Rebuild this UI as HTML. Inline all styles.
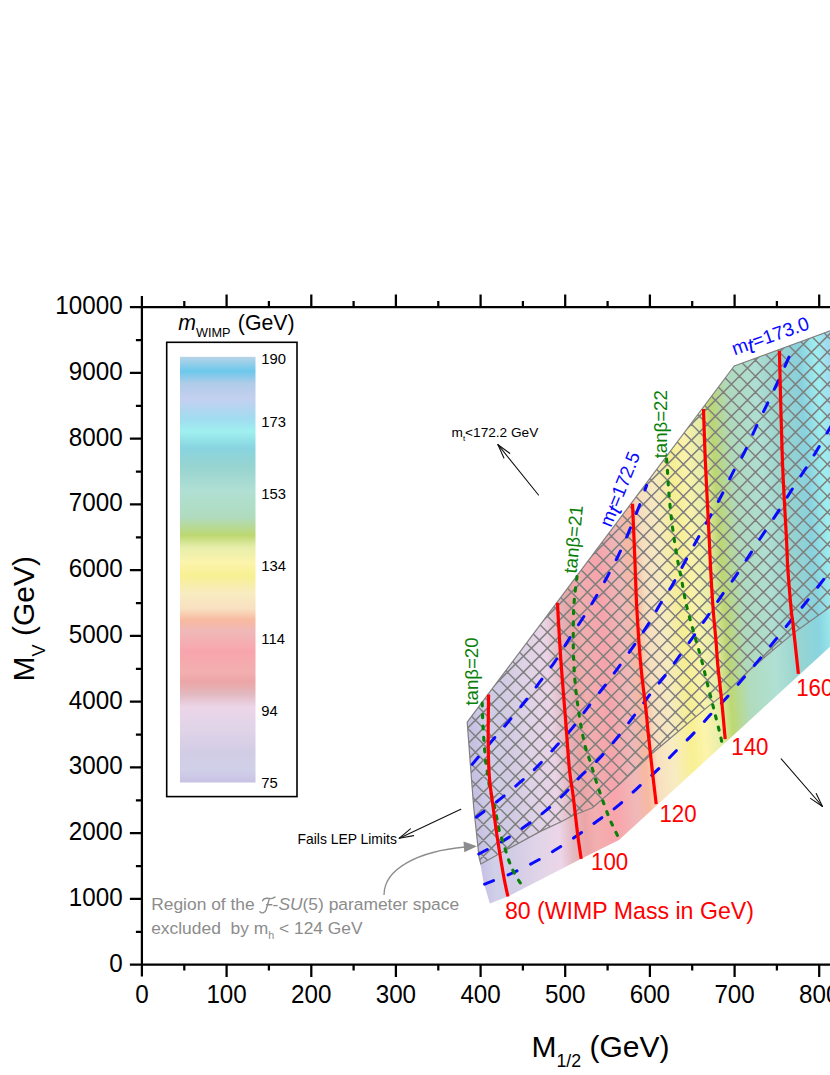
<!DOCTYPE html><html><head><meta charset="utf-8"><title>chart</title>
<style>html,body{margin:0;padding:0;background:#fff;}body{width:830px;height:1075px;overflow:hidden;}svg{display:block;}text{font-family:'Liberation Sans', sans-serif;}</style></head><body>
<svg width="830" height="1075" viewBox="0 0 830 1075">
<defs>
<linearGradient id="gp" gradientUnits="userSpaceOnUse" x1="470.0" y1="700.0" x2="917.4" y2="668.7"><stop offset="0.0000" stop-color="#c9c1e5"/><stop offset="0.0296" stop-color="#d0d0e8"/><stop offset="0.0713" stop-color="#d2cce5"/><stop offset="0.1243" stop-color="#e0d4e8"/><stop offset="0.1774" stop-color="#ecd5e8"/><stop offset="0.2078" stop-color="#e2b9c0"/><stop offset="0.2365" stop-color="#eca5a6"/><stop offset="0.2600" stop-color="#f3afb0"/><stop offset="0.3078" stop-color="#f8a5ac"/><stop offset="0.3548" stop-color="#f0b9b9"/><stop offset="0.3817" stop-color="#f8b9a0"/><stop offset="0.4070" stop-color="#f8dfc0"/><stop offset="0.4435" stop-color="#f8ecc2"/><stop offset="0.4861" stop-color="#f8f092"/><stop offset="0.5174" stop-color="#fcf4ac"/><stop offset="0.5530" stop-color="#e6eeaa"/><stop offset="0.5800" stop-color="#bdd871"/><stop offset="0.6226" stop-color="#b0dbbe"/><stop offset="0.6852" stop-color="#b0e0d4"/><stop offset="0.7391" stop-color="#98d4d0"/><stop offset="0.7861" stop-color="#88d4e0"/><stop offset="0.8243" stop-color="#a0f0f0"/><stop offset="0.8539" stop-color="#a0dcf0"/><stop offset="0.9009" stop-color="#c4d0f0"/><stop offset="0.9374" stop-color="#b0cce8"/><stop offset="0.9661" stop-color="#6cc8ec"/><stop offset="1.0000" stop-color="#b8d4e8"/></linearGradient>
<linearGradient id="gl" x1="0" y1="0" x2="0" y2="1"><stop offset="0.0000" stop-color="#b8d4e8"/><stop offset="0.0339" stop-color="#6cc8ec"/><stop offset="0.0626" stop-color="#b0cce8"/><stop offset="0.0991" stop-color="#c4d0f0"/><stop offset="0.1461" stop-color="#a0dcf0"/><stop offset="0.1757" stop-color="#a0f0f0"/><stop offset="0.2139" stop-color="#88d4e0"/><stop offset="0.2609" stop-color="#98d4d0"/><stop offset="0.3148" stop-color="#b0e0d4"/><stop offset="0.3774" stop-color="#b0dbbe"/><stop offset="0.4200" stop-color="#bdd871"/><stop offset="0.4470" stop-color="#e6eeaa"/><stop offset="0.4826" stop-color="#fcf4ac"/><stop offset="0.5139" stop-color="#f8f092"/><stop offset="0.5565" stop-color="#f8ecc2"/><stop offset="0.5930" stop-color="#f8dfc0"/><stop offset="0.6183" stop-color="#f8b9a0"/><stop offset="0.6452" stop-color="#f0b9b9"/><stop offset="0.6922" stop-color="#f8a5ac"/><stop offset="0.7400" stop-color="#f3afb0"/><stop offset="0.7635" stop-color="#eca5a6"/><stop offset="0.7922" stop-color="#e2b9c0"/><stop offset="0.8226" stop-color="#ecd5e8"/><stop offset="0.8757" stop-color="#e0d4e8"/><stop offset="0.9287" stop-color="#d2cce5"/><stop offset="0.9704" stop-color="#d0d0e8"/><stop offset="1.0000" stop-color="#c9c1e5"/></linearGradient>
<pattern id="hx" patternUnits="userSpaceOnUse" x="11.4" y="0.2" width="16" height="16"><path d="M-1,-1 L17,17 M-1,17 L17,-1" stroke="#808080" stroke-width="1.55" fill="none"/></pattern>
<clipPath id="cp"><rect x="0" y="0" width="830" height="1075"/></clipPath>
</defs>
<rect width="830" height="1075" fill="#fff"/>
<g clip-path="url(#cp)">
<polygon points="467.2,722.1 734.2,366.0 832.0,330.1 832.0,645.0 619.0,840.0 581.3,858.7 507.9,896.5 489.8,903.4 483.5,882.0 479.0,856.8 473.6,806.1 470.8,770.0" fill="url(#gp)"/>
<polygon points="467.2,722.1 734.2,366.0 832.0,330.1 832.0,605.5 795.7,631.4 775.8,647.7 751.0,669.0 726.5,692.3 708.0,706.6 686.8,724.2 668.5,739.8 652.3,753.3 637.7,767.0 619.6,784.2 592.5,807.7 572.0,816.0 560.0,822.2 540.4,831.4 507.0,849.5 480.8,864.0 479.0,856.8 473.6,806.1 470.8,770.0" fill="#808080" fill-opacity="0.02"/>
<clipPath id="hc"><polygon points="467.2,722.1 734.2,366.0 832.0,330.1 832.0,605.5 795.7,631.4 775.8,647.7 751.0,669.0 726.5,692.3 708.0,706.6 686.8,724.2 668.5,739.8 652.3,753.3 637.7,767.0 619.6,784.2 592.5,807.7 572.0,816.0 560.0,822.2 540.4,831.4 507.0,849.5 480.8,864.0 479.0,856.8 473.6,806.1 470.8,770.0"/></clipPath>
<path clip-path="url(#hc)" d="M460.00,303.60 L836.00,-72.40 M460.00,319.60 L836.00,-56.40 M460.00,335.60 L836.00,-40.40 M460.00,351.60 L836.00,-24.40 M460.00,367.60 L836.00,-8.40 M460.00,383.60 L836.00,7.60 M460.00,399.60 L836.00,23.60 M460.00,415.60 L836.00,39.60 M460.00,431.60 L836.00,55.60 M460.00,447.60 L836.00,71.60 M460.00,463.60 L836.00,87.60 M460.00,479.60 L836.00,103.60 M460.00,495.60 L836.00,119.60 M460.00,511.60 L836.00,135.60 M460.00,527.60 L836.00,151.60 M460.00,543.60 L836.00,167.60 M460.00,559.60 L836.00,183.60 M460.00,575.60 L836.00,199.60 M460.00,591.60 L836.00,215.60 M460.00,607.60 L836.00,231.60 M460.00,623.60 L836.00,247.60 M460.00,639.60 L836.00,263.60 M460.00,655.60 L836.00,279.60 M460.00,671.60 L836.00,295.60 M460.00,687.60 L836.00,311.60 M460.00,703.60 L836.00,327.60 M460.00,719.60 L836.00,343.60 M460.00,735.60 L836.00,359.60 M460.00,751.60 L836.00,375.60 M460.00,767.60 L836.00,391.60 M460.00,783.60 L836.00,407.60 M460.00,799.60 L836.00,423.60 M460.00,815.60 L836.00,439.60 M460.00,831.60 L836.00,455.60 M460.00,847.60 L836.00,471.60 M460.00,863.60 L836.00,487.60 M460.00,879.60 L836.00,503.60 M460.00,895.60 L836.00,519.60 M460.00,911.60 L836.00,535.60 M460.00,927.60 L836.00,551.60 M460.00,943.60 L836.00,567.60 M460.00,959.60 L836.00,583.60 M460.00,975.60 L836.00,599.60 M460.00,991.60 L836.00,615.60 M460.00,1007.60 L836.00,631.60 M460.00,1023.60 L836.00,647.60 M460.00,1039.60 L836.00,663.60 M460.00,1055.60 L836.00,679.60 M460.00,1071.60 L836.00,695.60 M460.00,1087.60 L836.00,711.60 M460.00,1103.60 L836.00,727.60 M460.00,1119.60 L836.00,743.60 M460.00,1135.60 L836.00,759.60 M460.00,1151.60 L836.00,775.60 M460.00,1167.60 L836.00,791.60 M460.00,1183.60 L836.00,807.60 M460.00,1199.60 L836.00,823.60 M460.00,1215.60 L836.00,839.60 M460.00,1231.60 L836.00,855.60 M460.00,1247.60 L836.00,871.60 M460.00,-79.20 L836.00,296.80 M460.00,-63.20 L836.00,312.80 M460.00,-47.20 L836.00,328.80 M460.00,-31.20 L836.00,344.80 M460.00,-15.20 L836.00,360.80 M460.00,0.80 L836.00,376.80 M460.00,16.80 L836.00,392.80 M460.00,32.80 L836.00,408.80 M460.00,48.80 L836.00,424.80 M460.00,64.80 L836.00,440.80 M460.00,80.80 L836.00,456.80 M460.00,96.80 L836.00,472.80 M460.00,112.80 L836.00,488.80 M460.00,128.80 L836.00,504.80 M460.00,144.80 L836.00,520.80 M460.00,160.80 L836.00,536.80 M460.00,176.80 L836.00,552.80 M460.00,192.80 L836.00,568.80 M460.00,208.80 L836.00,584.80 M460.00,224.80 L836.00,600.80 M460.00,240.80 L836.00,616.80 M460.00,256.80 L836.00,632.80 M460.00,272.80 L836.00,648.80 M460.00,288.80 L836.00,664.80 M460.00,304.80 L836.00,680.80 M460.00,320.80 L836.00,696.80 M460.00,336.80 L836.00,712.80 M460.00,352.80 L836.00,728.80 M460.00,368.80 L836.00,744.80 M460.00,384.80 L836.00,760.80 M460.00,400.80 L836.00,776.80 M460.00,416.80 L836.00,792.80 M460.00,432.80 L836.00,808.80 M460.00,448.80 L836.00,824.80 M460.00,464.80 L836.00,840.80 M460.00,480.80 L836.00,856.80 M460.00,496.80 L836.00,872.80 M460.00,512.80 L836.00,888.80 M460.00,528.80 L836.00,904.80 M460.00,544.80 L836.00,920.80 M460.00,560.80 L836.00,936.80 M460.00,576.80 L836.00,952.80 M460.00,592.80 L836.00,968.80 M460.00,608.80 L836.00,984.80 M460.00,624.80 L836.00,1000.80 M460.00,640.80 L836.00,1016.80 M460.00,656.80 L836.00,1032.80 M460.00,672.80 L836.00,1048.80 M460.00,688.80 L836.00,1064.80 M460.00,704.80 L836.00,1080.80 M460.00,720.80 L836.00,1096.80 M460.00,736.80 L836.00,1112.80 M460.00,752.80 L836.00,1128.80 M460.00,768.80 L836.00,1144.80 M460.00,784.80 L836.00,1160.80 M460.00,800.80 L836.00,1176.80 M460.00,816.80 L836.00,1192.80 M460.00,832.80 L836.00,1208.80 M460.00,848.80 L836.00,1224.80 M460.00,864.80 L836.00,1240.80 M460.00,880.80 L836.00,1256.80" stroke="#808080" stroke-width="1.5" fill="none"/>
<polygon points="467.2,722.1 734.2,366.0 832.0,330.1 832.0,605.5 795.7,631.4 775.8,647.7 751.0,669.0 726.5,692.3 708.0,706.6 686.8,724.2 668.5,739.8 652.3,753.3 637.7,767.0 619.6,784.2 592.5,807.7 572.0,816.0 560.0,822.2 540.4,831.4 507.0,849.5 480.8,864.0 479.0,856.8 473.6,806.1 470.8,770.0" fill="none" stroke="#808080" stroke-width="1.2" stroke-linejoin="round"/>
<path d="M472.2,764.4 C475.6,760.4 486.4,747.4 492.5,740.2 C498.6,733.0 503.4,727.7 508.8,721.2 C514.2,714.7 520.0,707.8 525.1,701.3 C530.2,694.8 534.5,689.0 539.5,682.4 C544.5,675.8 549.8,669.1 554.9,661.6 C560.0,654.1 565.5,644.6 570.2,637.2 C575.0,629.8 579.2,623.8 583.4,617.3 C587.5,610.8 591.0,605.2 595.1,598.3 C599.2,591.4 603.9,582.9 607.8,575.7 C611.7,568.5 615.1,562.2 618.6,555.0 C622.1,547.8 625.3,540.2 628.6,532.4 C631.9,524.6 635.5,515.8 638.5,508.0 C641.5,500.2 645.2,489.2 646.6,485.4" fill="none" stroke="#0a0aff" stroke-width="3" stroke-linecap="round" stroke-dasharray="9.8 15.3"/>
<path d="M476.3,817.2 C480.4,814.1 493.5,804.4 500.7,798.6 C507.9,792.9 513.7,787.8 519.6,782.7 C525.5,777.6 529.9,774.0 535.9,768.0 C541.9,762.0 549.8,753.1 555.8,746.5 C561.8,739.9 566.6,735.0 572.0,728.4 C577.4,721.8 582.9,713.9 588.3,706.8 C593.7,699.7 599.6,692.5 604.6,686.0 C609.6,679.5 612.9,675.0 618.1,667.8 C623.4,660.5 630.7,650.3 636.1,642.5 C641.5,634.7 646.5,627.0 650.4,620.9 C654.3,614.8 655.7,611.5 659.3,605.6 C662.9,599.7 668.0,592.3 671.9,585.7 C675.8,579.1 678.6,573.5 682.8,565.8 C687.0,558.1 692.7,547.6 697.2,539.5 C701.7,531.4 705.7,524.3 709.8,516.9 C713.9,509.5 717.5,503.0 721.6,495.2 C725.7,487.4 730.6,476.8 734.2,470.0 C737.8,463.2 739.8,461.4 743.3,454.6 C746.8,447.8 751.1,437.6 755.0,429.3 C758.9,421.0 762.9,413.0 766.8,404.9 C770.7,396.8 774.6,388.9 778.5,380.5 C782.4,372.1 788.2,358.7 790.2,354.3" fill="none" stroke="#0a0aff" stroke-width="3" stroke-linecap="round" stroke-dasharray="9.8 15.3"/>
<path d="M478.8,854.0 C483.2,851.6 497.2,844.4 505.2,839.6 C513.2,834.8 520.1,829.9 526.9,825.1 C533.7,820.3 539.5,816.0 545.8,810.7 C552.1,805.4 559.1,799.1 564.8,793.5 C570.5,787.9 574.2,782.8 579.9,777.0 C585.6,771.2 592.6,765.6 598.9,758.9 C605.2,752.2 611.6,744.6 617.8,737.0 C624.0,729.4 630.3,720.6 636.1,713.0 C641.9,705.4 647.3,697.9 652.4,691.3 C657.5,684.7 662.1,679.6 666.9,673.3 C671.7,667.0 676.6,659.9 681.3,653.4 C686.0,646.9 690.6,640.5 694.9,634.4 C699.2,628.3 702.5,623.7 707.1,617.0 C711.7,610.3 717.7,601.3 722.5,594.4 C727.3,587.5 731.5,582.3 736.0,575.7 C740.5,569.1 745.1,561.8 749.6,554.9 C754.1,548.0 758.4,541.2 763.1,534.1 C767.8,527.0 772.9,519.6 777.6,512.4 C782.3,505.2 786.4,498.2 791.2,490.7 C796.0,483.2 802.5,473.5 806.5,467.2 C810.5,460.9 811.2,459.9 815.5,452.8 C819.8,445.7 829.2,429.2 832.0,424.5" fill="none" stroke="#0a0aff" stroke-width="3" stroke-linecap="round" stroke-dasharray="9.8 15.3"/>
<path d="M484.6,884.2 C489.2,882.3 503.8,876.8 512.4,873.0 C520.9,869.2 528.4,865.4 535.9,861.3 C543.4,857.2 550.5,853.1 557.6,848.6 C564.7,844.1 571.9,839.3 578.7,834.5 C585.5,829.7 592.1,824.8 598.6,820.0 C605.1,815.2 611.3,811.3 617.8,805.9 C624.3,800.5 631.2,793.7 637.7,787.8 C644.2,781.9 650.6,776.6 656.7,770.7 C662.8,764.8 668.5,758.6 674.5,752.5 C680.5,746.4 686.9,740.4 692.9,734.1 C698.9,727.8 704.8,720.8 710.5,714.6 C716.2,708.4 721.7,703.1 727.2,697.0 C732.7,690.9 738.3,684.1 743.5,678.0 C748.7,671.9 753.4,666.6 758.6,660.4 C763.8,654.1 769.6,647.0 774.9,640.5 C780.2,634.0 784.9,628.0 790.2,621.5 C795.5,615.0 800.8,608.9 806.5,601.7 C812.2,594.5 820.4,583.7 824.6,578.2 C828.9,572.7 830.8,570.1 832.0,568.5" fill="none" stroke="#0a0aff" stroke-width="3" stroke-linecap="round" stroke-dasharray="9.8 15.3"/>
<path d="M482.2,703.1 C482.4,707.3 482.6,719.4 483.1,728.4 C483.6,737.4 484.7,750.5 485.3,757.4 C485.9,764.3 486.2,764.9 487.0,770.0 C487.8,775.1 488.5,781.8 489.8,788.0 C491.1,794.2 493.1,800.2 494.7,807.5 C496.3,814.8 498.2,826.1 499.5,831.6 C500.8,837.1 500.9,835.7 502.5,840.5 C504.1,845.3 506.9,855.0 508.8,860.4 C510.8,865.8 512.1,868.9 514.2,873.0 C516.3,877.1 520.3,882.8 521.5,884.8" fill="none" stroke="#0a800a" stroke-width="3.1" stroke-linecap="round" stroke-dasharray="3.2 8.2"/>
<path d="M577.0,576.6 C576.5,580.5 574.9,592.9 574.3,600.1 C573.7,607.3 573.5,610.7 573.4,620.0 C573.3,629.3 573.1,644.6 573.5,656.1 C573.9,667.6 574.7,678.8 575.7,688.7 C576.7,698.7 578.3,708.9 579.3,715.8 C580.3,722.7 580.7,724.9 581.7,730.0 C582.7,735.1 583.9,741.4 585.2,746.5 C586.6,751.6 587.5,753.3 589.8,760.5 C592.1,767.7 595.7,780.2 598.9,789.6 C602.1,799.0 605.6,808.9 608.8,816.8 C612.0,824.7 616.6,833.6 618.2,837.0" fill="none" stroke="#0a800a" stroke-width="3.1" stroke-linecap="round" stroke-dasharray="3.2 8.2"/>
<path d="M666.6,459.0 C666.7,460.8 667.0,463.6 667.4,470.0 C667.8,476.4 668.3,487.2 669.2,497.1 C670.1,507.0 671.3,518.5 672.8,529.6 C674.3,540.8 676.9,556.3 678.3,564.0 C679.6,571.7 679.8,570.6 680.9,576.0 C682.0,581.4 683.5,590.8 684.6,596.5 C685.7,602.2 686.0,603.8 687.6,610.0 C689.2,616.2 691.7,625.4 694.0,633.5 C696.3,641.6 699.0,650.4 701.2,658.8 C703.5,667.2 705.4,675.7 707.5,684.1 C709.6,692.5 711.8,701.0 713.9,709.4 C716.0,717.8 718.9,729.0 720.2,734.7 C721.6,740.4 721.7,742.2 722.0,743.7" fill="none" stroke="#0a800a" stroke-width="3.1" stroke-linecap="round" stroke-dasharray="3.2 8.2"/>
<path d="M488.6,694.5 C488.5,702.1 488.1,727.4 488.2,740.0 C488.2,752.6 488.5,762.0 488.9,770.0 C489.3,778.0 489.9,782.6 490.5,788.0 C491.1,793.4 491.7,796.3 492.5,802.5 C493.3,808.7 494.6,818.4 495.5,825.0 C496.4,831.6 496.7,834.0 498.0,842.3 C499.3,850.6 501.8,865.8 503.4,874.8 C505.0,883.8 507.1,892.9 507.9,896.5" fill="none" stroke="#ff0000" stroke-width="3.2" stroke-linecap="butt"/>
<path d="M557.5,602.8 C557.6,605.7 557.8,609.6 558.4,620.0 C559.0,630.4 560.0,648.3 561.2,665.2 C562.4,682.1 564.3,703.7 565.7,721.2 C567.1,738.7 568.2,757.4 569.5,770.0 C570.8,782.6 572.0,786.5 573.3,797.0 C574.6,807.5 576.2,823.0 577.5,833.3 C578.8,843.6 580.6,854.6 581.2,858.9" fill="none" stroke="#ff0000" stroke-width="3.2" stroke-linecap="butt"/>
<path d="M632.5,503.8 C632.9,513.2 634.2,542.7 634.9,560.4 C635.6,578.1 635.9,592.7 636.9,610.0 C637.9,627.3 639.2,647.3 640.7,664.2 C642.2,681.1 644.9,700.2 646.1,711.2 C647.3,722.2 646.9,720.2 647.9,730.0 C648.9,739.8 650.8,757.4 652.2,769.8 C653.6,782.1 655.5,798.4 656.2,804.1" fill="none" stroke="#ff0000" stroke-width="3.2" stroke-linecap="butt"/>
<path d="M703.5,409.0 C703.8,417.5 704.4,439.4 705.3,460.0 C706.2,480.6 708.0,514.0 708.9,532.3 C709.8,550.6 710.0,557.0 710.7,570.0 C711.4,583.0 712.3,598.0 713.2,610.0 C714.1,622.0 715.4,633.3 716.1,642.3 C716.9,651.3 716.7,653.9 717.7,664.2 C718.7,674.5 720.8,691.5 722.0,704.0 C723.2,716.5 724.7,733.3 725.2,739.2" fill="none" stroke="#ff0000" stroke-width="3.2" stroke-linecap="butt"/>
<path d="M779.4,350.7 C779.9,368.9 781.2,428.2 782.4,460.0 C783.6,491.8 785.7,523.0 786.6,541.3 C787.5,559.6 787.1,558.5 787.9,570.0 C788.7,581.5 790.4,601.0 791.2,610.0 C792.1,619.0 791.8,613.6 793.0,624.2 C794.2,634.9 797.5,665.6 798.4,673.9" fill="none" stroke="#ff0000" stroke-width="3.2" stroke-linecap="butt"/>
</g>
<path d="M141.9,296.1 V976.6 M129.9,307.1 H831 M129.9,964.6 H831 M184.3,964.6 v6 M184.3,307.1 v-6 M226.6,964.6 v12.5 M226.6,307.1 v-12.5 M268.9,964.6 v6 M268.9,307.1 v-6 M311.3,964.6 v12.5 M311.3,307.1 v-12.5 M353.6,964.6 v6 M353.6,307.1 v-6 M395.9,964.6 v12.5 M395.9,307.1 v-12.5 M438.3,964.6 v6 M438.3,307.1 v-6 M480.6,964.6 v12.5 M480.6,307.1 v-12.5 M522.9,964.6 v6 M522.9,307.1 v-6 M565.2,964.6 v12.5 M565.2,307.1 v-12.5 M607.6,964.6 v6 M607.6,307.1 v-6 M649.9,964.6 v12.5 M649.9,307.1 v-12.5 M692.2,964.6 v6 M692.2,307.1 v-6 M734.6,964.6 v12.5 M734.6,307.1 v-12.5 M776.9,964.6 v6 M776.9,307.1 v-6 M819.2,964.6 v12.5 M819.2,307.1 v-12.5 M141.9,931.8 h-6 M141.9,898.9 h-12 M141.9,866.0 h-6 M141.9,833.1 h-12 M141.9,800.3 h-6 M141.9,767.4 h-12 M141.9,734.5 h-6 M141.9,701.6 h-12 M141.9,668.8 h-6 M141.9,635.9 h-12 M141.9,603.0 h-6 M141.9,570.1 h-12 M141.9,537.3 h-6 M141.9,504.4 h-12 M141.9,471.5 h-6 M141.9,438.6 h-12 M141.9,405.8 h-6 M141.9,372.9 h-12 M141.9,340.0 h-6" stroke="#000" stroke-width="2.25" fill="none"/>
<g font-size="24.2" fill="#000">
<text transform="translate(122.6,971.5) scale(1,1.080)" class="st" text-anchor="end">0</text>
<text transform="translate(122.6,905.8) scale(1,1.080)" class="st" text-anchor="end">1000</text>
<text transform="translate(122.6,840.0) scale(1,1.080)" class="st" text-anchor="end">2000</text>
<text transform="translate(122.6,774.3) scale(1,1.080)" class="st" text-anchor="end">3000</text>
<text transform="translate(122.6,708.5) scale(1,1.080)" class="st" text-anchor="end">4000</text>
<text transform="translate(122.6,642.8) scale(1,1.080)" class="st" text-anchor="end">5000</text>
<text transform="translate(122.6,577.0) scale(1,1.080)" class="st" text-anchor="end">6000</text>
<text transform="translate(122.6,511.3) scale(1,1.080)" class="st" text-anchor="end">7000</text>
<text transform="translate(122.6,445.5) scale(1,1.080)" class="st" text-anchor="end">8000</text>
<text transform="translate(122.6,379.8) scale(1,1.080)" class="st" text-anchor="end">9000</text>
<text transform="translate(122.6,314.0) scale(1,1.080)" class="st" text-anchor="end">10000</text>
<text transform="translate(141.9,1003.0) scale(1,1.080)" class="st" text-anchor="middle">0</text>
<text transform="translate(226.6,1003.0) scale(1,1.080)" class="st" text-anchor="middle">100</text>
<text transform="translate(311.3,1003.0) scale(1,1.080)" class="st" text-anchor="middle">200</text>
<text transform="translate(395.9,1003.0) scale(1,1.080)" class="st" text-anchor="middle">300</text>
<text transform="translate(480.6,1003.0) scale(1,1.080)" class="st" text-anchor="middle">400</text>
<text transform="translate(565.2,1003.0) scale(1,1.080)" class="st" text-anchor="middle">500</text>
<text transform="translate(649.9,1003.0) scale(1,1.080)" class="st" text-anchor="middle">600</text>
<text transform="translate(734.6,1003.0) scale(1,1.080)" class="st" text-anchor="middle">700</text>
<text transform="translate(819.2,1003.0) scale(1,1.080)" class="st" text-anchor="middle">800</text>
</g>
<text x="531.4" y="1056.6" font-size="30" fill="#000">M<tspan font-size="17.8" dy="10.6">1/2</tspan><tspan dy="-10.6"> (GeV)</tspan></text>
<text transform="translate(34.3,681.4) rotate(-90)" font-size="30" fill="#000">M<tspan font-size="18" dy="10.6">V</tspan><tspan dy="-10.6"> (GeV)</tspan></text>
<text y="329.7" font-size="21.3" fill="#000"><tspan x="178.3" font-style="italic">m</tspan><tspan x="196" font-size="12.7" dy="7.3">WIMP</tspan><tspan x="237.8" dy="-7.3">(GeV)</tspan></text>
<rect x="166.7" y="342.3" width="130.3" height="454.3" fill="#fff" stroke="#000" stroke-width="1.6"/>
<rect x="180" y="356.8" width="75.5" height="425.7" fill="url(#gl)"/>
<g font-size="14.8" fill="#000">
<text x="261.3" y="363.9">190</text>
<text x="261.3" y="426.8">173</text>
<text x="261.3" y="499.2">153</text>
<text x="261.3" y="570.9">134</text>
<text x="261.3" y="644.2">114</text>
<text x="261.3" y="716.2">94</text>
<text x="261.3" y="788.2">75</text>
</g>
<text x="451.5" y="436.6" font-size="13.65" fill="#000">m<tspan font-size="8" dy="4">t</tspan><tspan dy="-4">&lt;172.2 GeV</tspan></text>
<g stroke="#111" stroke-width="1.10" stroke-linecap="round" fill="none"><line x1="538.5" y1="495.0" x2="498.0" y2="444.7"/><line x1="498.0" y1="444.7" x2="509.7" y2="453.3"/><line x1="498.0" y1="444.7" x2="503.9" y2="458.0"/></g>
<text x="297.5" y="843.8" font-size="13.9" fill="#000">Fails LEP Limits</text>
<g stroke="#111" stroke-width="1.10" stroke-linecap="round" fill="none"><line x1="460.8" y1="809.3" x2="399.3" y2="838.2"/><line x1="399.3" y1="838.2" x2="410.4" y2="828.8"/><line x1="399.3" y1="838.2" x2="413.6" y2="835.6"/></g>
<g stroke="#111" stroke-width="1.10" stroke-linecap="round" fill="none"><line x1="781.2" y1="758.8" x2="822.5" y2="806.5"/><line x1="822.5" y1="806.5" x2="810.5" y2="798.4"/><line x1="822.5" y1="806.5" x2="816.2" y2="793.5"/></g>
<g fill="#8c8c8c" font-size="17.4">
<text x="151.2" y="909.7">Region of the </text>
<text x="272.6" y="909.7"><tspan>-</tspan><tspan font-style="italic">SU</tspan>(5) parameter space</text>
<text x="151.2" y="933.8" xml:space="preserve">excluded  by m<tspan font-size="10.8" dy="5">h</tspan><tspan dy="-5"> &lt; 124 GeV</tspan></text>
</g>
<path d="M259.9,911.7 c1.8,1.9 5.0,1.6 6.2,-2.0 l3.3,-11.3 M262.6,900.7 c1.0,-2.6 3.4,-2.7 6.0,-2.3 c2.6,0.4 4.8,0.4 6.4,-1.4 M266.7,904.7 h5.2" stroke="#8c8c8c" stroke-width="1.4" fill="none" stroke-linecap="round"/>
<path d="M384,895 C384,868 420,851 465,847" stroke="#8c8c8c" stroke-width="1.3" fill="none"/>
<polygon points="477,846.2 463.5,841.6 464.3,852.2" fill="#8c8c8c"/>
<g fill="#ff0000" font-size="22.3">
<text x="504.9" y="919.3" font-size="23.15">80 (WIMP Mass in GeV)</text>
<text transform="translate(591.0,870.0) scale(1,1.080)" class="st">100</text>
<text transform="translate(659.4,821.7) scale(1,1.080)" class="st">120</text>
<text transform="translate(731.3,754.9) scale(1,1.080)" class="st">140</text>
<text transform="translate(796.2,696.0) scale(1,1.080)" class="st">160</text>
</g>
<g fill="#0a800a" font-size="18.6">
<text transform="translate(478.4,705.6) rotate(-90.0)">tanβ=20</text>
<text transform="translate(576.6,573.8) rotate(-84.7)">tanβ=21</text>
<text transform="translate(667.4,458.3) rotate(-90.0)">tanβ=22</text>
</g>
<g fill="#0a0aff">
<text font-size="18.6" transform="translate(611.0,528.0) rotate(-68)">m<tspan font-size="21" font-style="italic" dy="3.6">t</tspan><tspan dy="-3.6">=172.5</tspan></text>
<text font-size="19.1" transform="translate(734.4,355.6) rotate(-19.5)">m<tspan font-size="21.5" font-style="italic" dy="3.6">t</tspan><tspan dy="-3.6">=173.0</tspan></text>
</g>
</svg></body></html>
